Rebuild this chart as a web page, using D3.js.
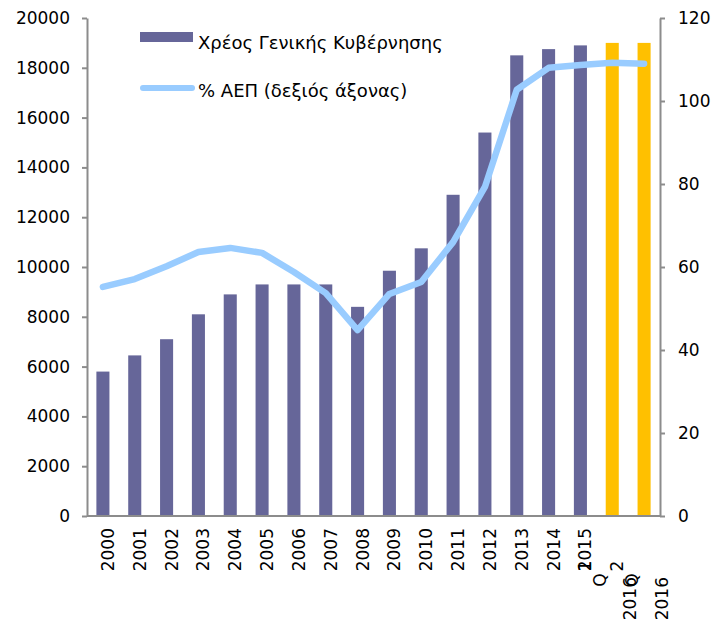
<!DOCTYPE html>
<html>
<head>
<meta charset="utf-8">
<script src="https://cdn.jsdelivr.net/npm/d3@7"></script>
<style>
  body { margin: 0; background: #fff; }
  svg text { font-family: "DejaVu Sans", Verdana, sans-serif; font-size: 17px; fill: #000; }
</style>
</head>
<body>
<svg id="chart" width="716" height="621"></svg>
<script>
// categories along the x axis
var categories = ["2000","2001","2002","2003","2004","2005","2006","2007","2008",
                  "2009","2010","2011","2012","2013","2014","2015","Q1 2016","Q2 2016"];
// general government debt (left axis)
var debt = [5800, 6450, 7100, 8100, 8900, 9300, 9300, 9300, 8400,
            9850, 10750, 12900, 15400, 18500, 18750, 18900, 19000, 19000];
// % of GDP (right axis)
var pctGdp = [55.2, 57.1, 60.2, 63.6, 64.6, 63.4, 58.8, 53.7, 44.8,
              53.5, 56.4, 66.0, 79.3, 102.7, 108.0, 108.7, 109.2, 109.0];
var leftTicks = [0, 2000, 4000, 6000, 8000, 10000, 12000, 14000, 16000, 18000, 20000];
var rightTicks = [0, 20, 40, 60, 80, 100, 120];
var legendLabels = ["Χρέος Γενικής Κυβέρνησης", "% ΑΕΠ (δεξιός άξονας)"];

var svg = d3.select("#chart");
var plotLeft = 87, plotRight = 660, plotTop = 18, plotBottom = 516;
var axisColor = "#8c8c8c";

var x = d3.scaleBand().domain(categories).range([plotLeft, plotRight]).paddingInner(0.59).paddingOuter(0.295);
var yL = d3.scaleLinear().domain([0, 20000]).range([plotBottom, plotTop]);
var yR = d3.scaleLinear().domain([0, 120]).range([plotBottom, plotTop]);

// bars
svg.append("g").selectAll("rect")
    .data(categories)
    .enter().append("rect")
    .attr("x", function(d) { return x(d); })
    .attr("width", x.bandwidth())
    .attr("y", function(d, i) { return yL(debt[i]); })
    .attr("height", function(d, i) { return plotBottom - yL(debt[i]); })
    .attr("fill", function(d) { return d.indexOf("Q") == 0 ? "#ffc000" : "#666699"; });

// line on right axis
var line = d3.line()
    .x(function(d, i) { return x(categories[i]) + x.bandwidth() / 2; })
    .y(function(d) { return yR(d); });

svg.append("path")
    .datum(pctGdp)
    .attr("d", line)
    .attr("fill", "none")
    .attr("stroke", "#99ccff")
    .attr("stroke-width", 6.5)
    .attr("stroke-linejoin", "round")
    .attr("stroke-linecap", "round");

// left axis
var gL = svg.append("g")
    .attr("transform", "translate(" + plotLeft + ",0)")
    .call(d3.axisLeft(yL).tickValues(leftTicks).tickSize(5).tickSizeOuter(0).tickPadding(12).tickFormat(d3.format("d")));
// right axis
var gR = svg.append("g")
    .attr("transform", "translate(" + plotRight + ",0)")
    .call(d3.axisRight(yR).tickValues(rightTicks).tickSize(5).tickSizeOuter(0).tickPadding(13));

[gL, gR].forEach(function(g) {
    g.select(".domain").attr("stroke", axisColor).attr("stroke-width", 2);
    g.selectAll(".tick line").attr("stroke", axisColor).attr("stroke-width", 2);
    g.selectAll(".tick text")
        .attr("font-family", "DejaVu Sans, Verdana, sans-serif")
        .style("font-size", "17px").attr("fill", "#000");
});

// bottom axis line
svg.append("line")
    .attr("x1", plotLeft).attr("x2", plotRight)
    .attr("y1", plotBottom).attr("y2", plotBottom)
    .attr("stroke", axisColor).attr("stroke-width", 2);

// category labels
var labels = svg.append("g");
categories.forEach(function(c) {
    var cx = x(c) + x.bandwidth() / 2;
    var parts = c.split(" ");
    if (parts.length == 1) {
        labels.append("text")
            .attr("transform", "translate(" + (cx + 5) + "," + 528 + ") rotate(-90)")
            .attr("dy", "0.35em")
            .attr("text-anchor", "end")
            .text(c);
    } else {
        // quarter labels wrap awkwardly in the original
        var q = parts[0];
        labels.append("text")
            .attr("transform", "translate(" + (cx - 12) + "," + 580 + ") rotate(-90)")
            .attr("dy", "0.35em")
            .attr("text-anchor", "middle")
            .text(q.charAt(0));
        labels.append("text")
            .attr("transform", "translate(" + (cx - 27) + "," + 566 + ") rotate(-90)")
            .attr("dy", "0.35em")
            .attr("text-anchor", "middle")
            .text(q.charAt(1));
        labels.append("text")
            .attr("transform", "translate(" + (cx + 18) + "," + 577 + ") rotate(-90)")
            .attr("dy", "0.35em")
            .attr("text-anchor", "end")
            .text(parts[1]);
    }
});

// legend
var lg = svg.append("g");
lg.append("rect").attr("x", 140).attr("y", 32).attr("width", 53).attr("height", 10).attr("fill", "#666699");
lg.append("text").attr("x", 198).attr("y", 43).attr("dy", "0.35em").style("font-size", "18px").text(legendLabels[0]);
lg.append("line").attr("x1", 143).attr("x2", 192).attr("y1", 88).attr("y2", 88)
    .attr("stroke", "#99ccff").attr("stroke-width", 6).attr("stroke-linecap", "round");
lg.append("text").attr("x", 198).attr("y", 91).attr("dy", "0.35em").style("font-size", "18px").text(legendLabels[1]);
</script>
</body>
</html>
